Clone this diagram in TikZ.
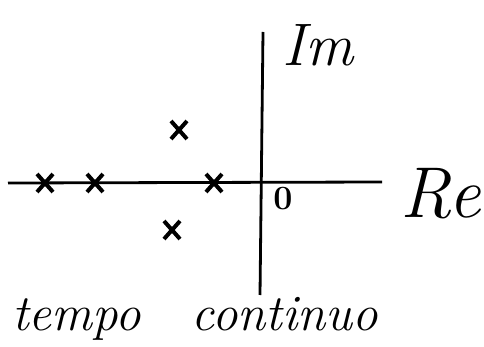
\documentclass[tikz,border=0pt]{standalone}
\usetikzlibrary{calc}
\newcommand{\bigsz}[1]{\fontsize{#1}{#1}\selectfont}
\begin{document}
\begin{tikzpicture}[x=1pt,y=-1pt,
  axis/.style={line width=2.8pt},
  pole/.style={line width=4pt},
  lbl/.style={inner sep=0pt}]
\useasboundingbox (0,0) rectangle (484,347);
% axes
\coordinate (xl) at (8,183);
\coordinate (xr) at (382,182);
\coordinate (yt) at (263,32);
\coordinate (yb) at (260,295);
\draw[axis] (xl) -- (xr);
\draw[axis] (yt) -- (yb);
% poles
\foreach \n/\x/\y in {p1/45/183, p2/95/183, p3/214/183, p4/179/130, p5/172/230}{
  \coordinate (\n) at (\x,\y);
  \draw[pole] ($(\n)+(-8,-9)$) -- ($(\n)+(8,9)$);
  \draw[pole] ($(\n)+(-8,9)$) -- ($(\n)+(8,-9)$);
}
% labels
\node[lbl] (im) at (318,45) {\bigsz{60}\itshape Im};
\node[lbl] (re) at (441,194) {\bigsz{72}\itshape Re};
\node[lbl] (zero) at (283,199) {\bigsz{34}\bfseries 0};
\node[lbl, anchor=base west] (txt) at (12,330) {\bigsz{51}\itshape tempo\quad continuo};
\end{tikzpicture}
\end{document}
